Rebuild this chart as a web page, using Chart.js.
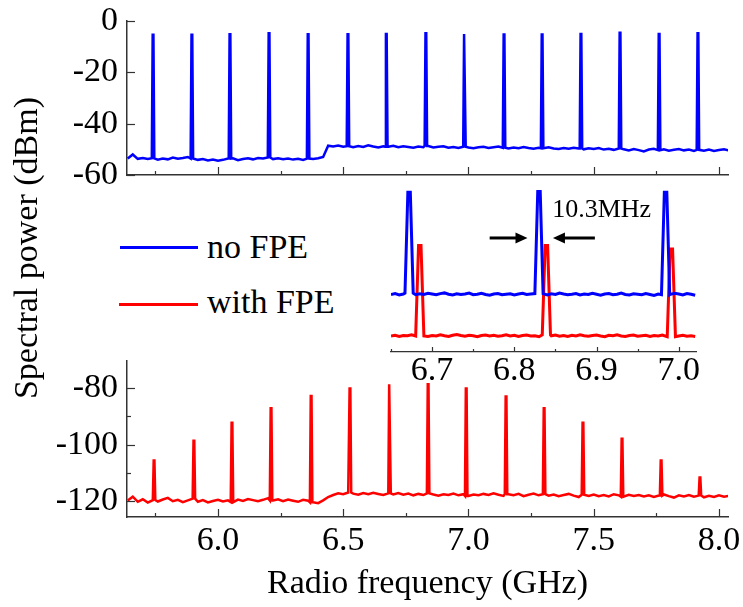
<!DOCTYPE html>
<html>
<head>
<meta charset="utf-8">
<script src="https://cdn.jsdelivr.net/npm/chart.js@4.4.1/dist/chart.umd.min.js"></script>
<style>
  body { margin: 0; background: #fff; }
  #fig { position: relative; width: 743px; height: 607px; overflow: hidden; background: #fff;
         font-family: "Liberation Serif", "Times New Roman", serif; color: #000; }
  #fig canvas { position: absolute; }
  .ytitle { position: absolute; left: 26px; top: 248px; width: 400px; height: 40px; line-height: 40px;
            margin-left: -200px; margin-top: -20px; text-align: center; font-size: 34px;
            transform: rotate(-90deg); white-space: nowrap; }
  .legtxt { position: absolute; font-size: 34px; line-height: 34px; white-space: nowrap; }
  .legline { position: absolute; height: 3px; }
</style>
</head>
<body>
<div id="fig">
  <canvas id="topChart" width="743" height="190" style="left:0;top:0;width:743px;height:190px"></canvas>
  <canvas id="botChart" width="743" height="267" style="left:0;top:340px;width:743px;height:267px"></canvas>
  <canvas id="insetChart" width="383" height="220" style="left:360px;top:180px;width:383px;height:220px"></canvas>
  <div class="ytitle">Spectral power (dBm)</div>
  <div class="legline" style="left:120px;top:246px;width:78px;background:#0000ff"></div>
  <div class="legtxt" style="left:207px;top:230px">no FPE</div>
  <div class="legline" style="left:119px;top:303px;width:79px;background:#ff0000"></div>
  <div class="legtxt" style="left:207px;top:285px">with FPE</div>
</div>
<script>
// ---- data ----
const X_MIN = 5.637, X_MAX = 8.036;          // GHz
const BASE_START = 5.64, BASE_STEP = 0.02;   // sampling of the noise floor

// comb lines, no FPE (blue) : frequency (GHz) / level (dBm)
const blueFreqs  = [5.741, 5.896, 6.048, 6.204, 6.360, 6.519, 6.672, 6.830, 6.984, 7.142, 7.294, 7.449, 7.605, 7.761, 7.916];
const blueLevels = [-5.4, -5.4, -5.2, -4.8, -5.2, -5.2, -5.1, -4.8, -5.1, -5.3, -5.3, -5.1, -4.6, -5.1, -4.8];

// comb lines, with FPE (red)
const redFreqs  = [5.745, 5.904, 6.056, 6.212, 6.372, 6.527, 6.685, 6.839, 6.991, 7.150, 7.302, 7.457, 7.613, 7.769, 7.924];
const redLevels = [-105.6, -98.6, -92.2, -87.1, -82.7, -80.1, -78.6, -78.6, -80.1, -82.9, -87.1, -92.2, -97.9, -105.6, -111.7];

// noise floor, 5.64 .. 8.04 GHz every 0.02 GHz
const blueFloor = [
  -53.6,-52.0,-53.7,-53.4,-53.8,-53.5,-54.0,-53.6,-53.9,-53.2,
  -53.7,-53.4,-53.0,-53.6,-54.1,-53.8,-54.3,-54.0,-54.4,-54.1,
  -53.6,-53.5,-54.2,-53.8,-53.5,-53.9,-53.4,-53.6,-53.2,-53.8,
  -53.5,-53.9,-53.6,-54.0,-53.7,-54.1,-53.6,-53.8,-53.5,-53.0,
  -48.6,-48.9,-48.5,-49.0,-48.8,-49.2,-48.7,-49.1,-48.4,-48.9,
  -49.3,-48.8,-49.0,-48.6,-49.2,-48.8,-49.1,-49.4,-48.9,-49.2,
  -48.7,-49.3,-49.0,-48.8,-49.4,-49.1,-49.5,-49.0,-49.3,-49.6,
  -49.2,-49.0,-49.5,-49.2,-48.9,-49.4,-49.7,-49.3,-49.6,-49.1,
  -49.5,-49.8,-49.4,-49.6,-49.2,-49.7,-49.9,-49.5,-49.8,-49.4,
  -49.7,-50.0,-49.6,-49.9,-49.5,-50.1,-49.8,-50.2,-49.7,-50.0,
  -50.4,-49.9,-50.3,-50.8,-50.1,-49.8,-50.3,-50.0,-50.5,-50.2,
  -49.9,-50.4,-50.1,-50.6,-50.2,-50.5,-50.1,-50.6,-50.3,-50.0,
  -50.4
];
const redFloor = [
  -119.8,-118.5,-120.3,-119.4,-120.6,-119.7,-120.2,-119.5,-118.9,-120.1,
  -119.6,-120.4,-119.8,-119.2,-120.3,-119.7,-120.5,-120.0,-119.6,-120.2,
  -119.8,-120.4,-119.5,-120.0,-119.3,-119.7,-120.1,-119.6,-119.0,-119.8,
  -119.4,-120.1,-119.5,-119.9,-120.3,-119.6,-119.9,-120.5,-120.8,-119.8,
  -118.6,-117.9,-117.3,-117.6,-117.0,-117.4,-117.8,-117.2,-117.6,-117.1,
  -117.5,-117.9,-117.3,-117.7,-117.2,-117.8,-117.4,-118.0,-117.5,-117.9,
  -117.3,-117.7,-118.1,-117.6,-117.9,-117.4,-118.0,-117.6,-118.2,-117.7,
  -118.0,-117.5,-117.9,-117.3,-117.8,-118.2,-117.6,-118.0,-117.5,-118.3,
  -117.8,-117.4,-118.0,-117.6,-118.1,-117.7,-118.3,-117.9,-117.5,-118.1,
  -118.6,-117.8,-118.2,-117.7,-118.3,-117.9,-118.4,-117.6,-118.0,-118.5,
  -117.8,-118.2,-117.9,-118.4,-118.0,-118.6,-118.1,-117.7,-118.3,-118.8,
  -118.0,-118.4,-117.9,-118.5,-118.1,-118.7,-118.2,-118.6,-118.0,-118.5,
  -118.2
];

// inset: 6.650 .. 7.020 GHz every 0.005 GHz
const INSET_MIN = 6.650, INSET_MAX = 7.021, INSET_STEP = 0.005;
const INSET_RED_SHIFT = 50.5;   // red trace is lifted in the inset
const insetBlueFloor = [
  -49.2,-48.8,-49.4,-49.0,-48.6,-49.1,-49.3,-48.9,-49.2,-48.7,
  -49.0,-49.3,-48.8,-48.5,-49.1,-49.4,-48.9,-49.2,-49.0,-48.6,
  -49.3,-49.1,-48.7,-49.2,-49.5,-49.0,-48.8,-49.3,-49.1,-48.9,
  -49.4,-49.0,-48.7,-49.2,-49.0,-49.3,-48.8,-49.1,-49.4,-48.9,
  -49.2,-48.6,-49.0,-49.3,-49.1,-48.8,-49.4,-49.0,-49.2,-48.7,
  -49.1,-49.5,-49.0,-48.8,-49.3,-49.1,-48.6,-49.2,-49.4,-48.9,
  -49.1,-49.3,-48.8,-49.2,-49.6,-49.0,-48.9,-49.3,-49.1,-48.7,
  -49.0,-49.4,-48.8,-49.1,-49.5
];
const insetRedFloor = [
  -117.6,-117.3,-117.8,-117.4,-117.5,-117.1,-117.3,-117.6,-117.2,-117.8,
  -117.4,-117.6,-117.1,-117.5,-117.8,-117.3,-117.0,-117.4,-117.7,-117.3,
  -117.5,-117.9,-117.4,-117.2,-117.6,-117.3,-117.7,-117.5,-117.1,-117.6,
  -117.3,-117.8,-117.4,-117.2,-117.6,-117.5,-117.9,-117.3,-117.1,-117.5,
  -117.2,-117.7,-117.4,-117.8,-117.3,-117.6,-117.1,-117.5,-117.7,-117.4,
  -117.2,-117.6,-117.9,-117.3,-117.5,-117.1,-117.6,-117.8,-117.4,-117.2,
  -117.7,-117.5,-117.3,-117.8,-117.4,-117.6,-117.2,-117.5,-117.9,-117.4,
  -117.6,-117.3,-117.7,-117.5,-117.8
];

// ---- styling ----
const FONT = '"Liberation Serif", "Times New Roman", serif';
const BLUE = '#0000ff', RED = '#ff0000', AXIS = '#333333';
const PEAK_HALF_BASE = 0.005, PEAK_HALF_TOP = 0.0015;

// merge a noise floor with narrow comb lines into one trace
function buildTrace(start, step, floor, freqs, levels, lo, hi, shift) {
  const pts = [];
  floor.forEach((v, i) => {
    const x = start + i * step;
    if (freqs.some(f => Math.abs(x - f) < PEAK_HALF_BASE + 0.001)) return;
    pts.push({ x, y: v + shift });
  });
  freqs.forEach((f, k) => {
    if (f < lo || f > hi) return;
    const i = Math.min(floor.length - 1, Math.max(0, Math.round((f - start) / step)));
    const b = floor[i] + shift, top = levels[k] + shift;
    pts.push({ x: f - PEAK_HALF_BASE, y: b }, { x: f - PEAK_HALF_TOP, y: top },
             { x: f + PEAK_HALF_TOP, y: top }, { x: f + PEAK_HALF_BASE, y: b });
  });
  return pts.sort((a, b) => a.x - b.x);
}

const isMult = (v, m) => Math.abs(v / m - Math.round(v / m)) < 1e-6;

// ticks that point into the plot, long on labelled values
const innerTicks = {
  id: 'innerTicks',
  afterDraw(chart, args, opts) {
    const ctx = chart.ctx;
    ctx.save();
    ctx.strokeStyle = AXIS;
    ctx.lineWidth = 1.2;
    Object.keys(opts.axes || {}).forEach(id => {
      const s = chart.scales[id];
      s.ticks.forEach(t => {
        const len = isMult(t.value, opts.axes[id]) ? opts.major : opts.minor;
        const p = Math.round(s.getPixelForValue(t.value)) + 0.5;
        ctx.beginPath();
        if (s.isHorizontal()) { ctx.moveTo(p, s.top); ctx.lineTo(p, s.top - len); }
        else { ctx.moveTo(s.right, p); ctx.lineTo(s.right + len, p); }
        ctx.stroke();
      });
    });
    ctx.restore();
  }
};

// "10.3MHz" note with two arrows (inset units)
const fsrNote = {
  id: 'fsrNote',
  afterDatasetsDraw(chart) {
    const { ctx, scales: { x, y } } = chart;
    ctx.save();
    ctx.fillStyle = '#000';
    ctx.strokeStyle = '#000';
    ctx.font = '26px ' + FONT;
    ctx.textBaseline = 'alphabetic';
    ctx.fillText('10.3MHz', x.getPixelForValue(6.846), y.getPixelForValue(-15.8));
    const ay = y.getPixelForValue(-24.8);
    [[6.770, 6.816], [6.898, 6.847]].forEach(([a, b]) => {
      const xa = x.getPixelForValue(a), xb = x.getPixelForValue(b);
      const dir = Math.sign(xb - xa);
      ctx.lineWidth = 3;
      ctx.beginPath(); ctx.moveTo(xa, ay); ctx.lineTo(xb - dir * 10, ay); ctx.stroke();
      ctx.beginPath(); ctx.moveTo(xb, ay); ctx.lineTo(xb - dir * 12, ay - 5.5);
      ctx.lineTo(xb - dir * 12, ay + 5.5); ctx.closePath(); ctx.fill();
    });
    ctx.restore();
  }
};

const tickFont = { family: FONT, size: 34, lineHeight: 1 };
const noGrid = { display: false, drawTicks: false };
const axisBorder = { display: true, color: AXIS, width: 1.5 };

function lineSet(data, color, width) {
  return { data, borderColor: color, borderWidth: width, pointRadius: 0, tension: 0, fill: false };
}
function baseOptions(padding, plugins) {
  return {
    responsive: false, animation: false, events: [],
    layout: { padding },
    plugins: Object.assign({ legend: { display: false }, tooltip: { enabled: false } }, plugins)
  };
}

const blueTrace = buildTrace(BASE_START, BASE_STEP, blueFloor, blueFreqs, blueLevels, X_MIN, X_MAX, 0);
const redTrace  = buildTrace(BASE_START, BASE_STEP, redFloor, redFreqs, redLevels, X_MIN, X_MAX, 0);
const insetBlue = buildTrace(INSET_MIN, INSET_STEP, insetBlueFloor, blueFreqs, blueLevels, INSET_MIN, INSET_MAX, 0);
const insetRed  = buildTrace(INSET_MIN, INSET_STEP, insetRedFloor, redFreqs, redLevels, INSET_MIN, INSET_MAX, INSET_RED_SHIFT);

// upper panel: no FPE
new Chart(document.getElementById('topChart'), {
  type: 'line',
  data: { datasets: [lineSet(blueTrace, BLUE, 2.5)] },
  options: Object.assign(baseOptions({ top: 21, right: 15, left: 0, bottom: 0 },
    { innerTicks: { major: 8, minor: 4, axes: { x: 0.5, y: 20 } } }), {
    scales: {
      x: { type: 'linear', min: X_MIN, max: X_MAX,
           ticks: { display: false, stepSize: 0.25, includeBounds: false },
           grid: noGrid, border: axisBorder,
           afterFit: s => { s.height = 15; s.paddingLeft = 0; s.paddingRight = 0; } },
      y: { min: -60, max: 0,
           ticks: { stepSize: 10, includeBounds: false, padding: 9, color: '#000', font: tickFont,
                    callback: v => isMult(v, 20) ? String(v) : '' },
           grid: noGrid, border: axisBorder,
           afterFit: s => { s.width = 127; s.paddingTop = 0; s.paddingBottom = 0; } }
    }
  }),
  plugins: [innerTicks]
});

// lower panel: with FPE
new Chart(document.getElementById('botChart'), {
  type: 'line',
  data: { datasets: [lineSet(redTrace, RED, 2.5)] },
  options: Object.assign(baseOptions({ top: 21, right: 15, left: 0, bottom: 0 },
    { innerTicks: { major: 8, minor: 4, axes: { x: 0.5, y: 20 } } }), {
    scales: {
      x: { type: 'linear', min: X_MIN, max: X_MAX,
           ticks: { stepSize: 0.25, includeBounds: false, autoSkip: false, maxRotation: 0, minRotation: 0,
                    padding: 7, color: '#000', font: tickFont,
                    callback: v => isMult(v, 0.5) ? v.toFixed(1) : '' },
           grid: noGrid, border: axisBorder,
           title: { display: true, text: 'Radio frequency (GHz)', color: '#000',
                    font: { family: FONT, size: 34 }, padding: { top: 0, bottom: 3 } },
           afterFit: s => { s.height = 90; s.paddingLeft = 0; s.paddingRight = 0; } },
      y: { min: -125.7, max: -70.3,
           ticks: { stepSize: 10, includeBounds: false, padding: 9, color: '#000', font: tickFont,
                    callback: v => isMult(v, 20) ? String(v) : '' },
           grid: noGrid, border: axisBorder,
           afterFit: s => { s.width = 127; s.paddingTop = 0; s.paddingBottom = 0; } }
    }
  }),
  plugins: [innerTicks]
});

// inset: zoom around 6.8 GHz
new Chart(document.getElementById('insetChart'), {
  type: 'line',
  data: { datasets: [lineSet(insetBlue, BLUE, 3), lineSet(insetRed, RED, 3)] },
  options: Object.assign(baseOptions({ top: 10, right: 47, left: 31, bottom: 0 },
    { innerTicks: { major: 5, minor: 3, axes: { x: 0.1 } } }), {
    scales: {
      x: { type: 'linear', min: INSET_MIN, max: INSET_MAX,
           ticks: { stepSize: 0.05, includeBounds: false, autoSkip: false, maxRotation: 0, minRotation: 0,
                    padding: 2, color: '#000', font: tickFont,
                    callback: v => isMult(v, 0.1) ? v.toFixed(1) : '' },
           grid: noGrid, border: { display: true, color: AXIS, width: 1.2 },
           afterFit: s => { s.height = 48; s.paddingLeft = 0; s.paddingRight = 0; } },
      y: { display: false, min: -74, max: -4.1 }
    }
  }),
  plugins: [innerTicks, fsrNote]
});
</script>
</body>
</html>
